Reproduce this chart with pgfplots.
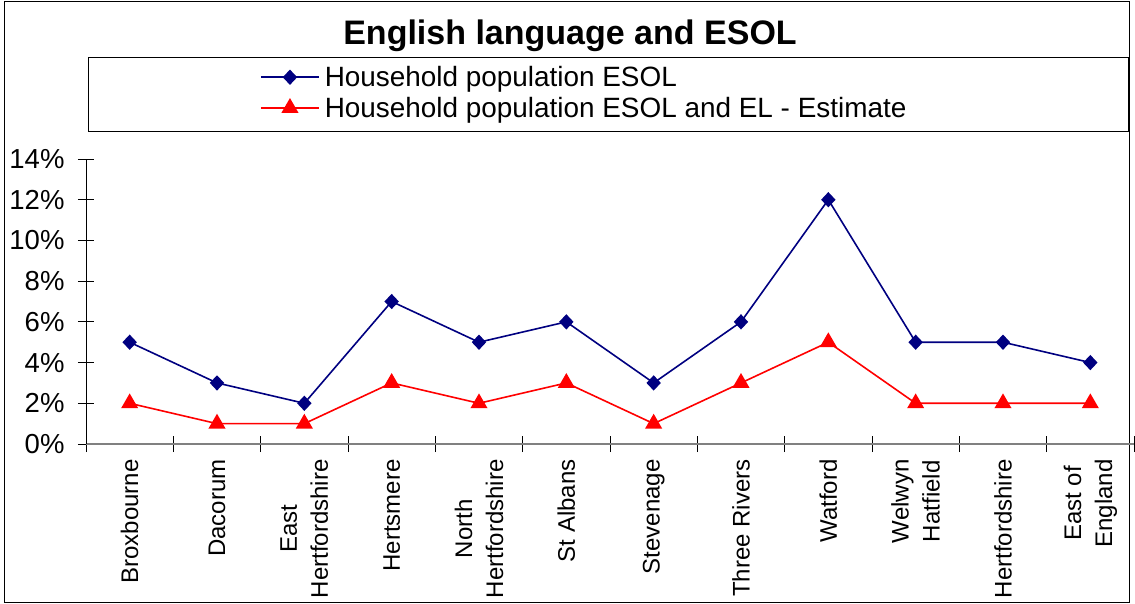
\documentclass[border=0pt]{standalone}
\usepackage{pgfplots}
\pgfplotsset{compat=1.18}
\usepackage{fontspec}
\setmainfont{Liberation Sans}
\definecolor{esolblue}{RGB}{0,0,128}
\definecolor{esolred}{RGB}{255,0,0}
\definecolor{axgray}{RGB}{128,128,128}
\begin{document}
\begin{tikzpicture}[x=1pt,y=1pt]
\useasboundingbox (-86,-159) rectangle (1049,444);
\draw[black, line width=1pt] (-81,-158) rectangle (1043,442);
\draw[black, line width=0.8pt] (2,313) rectangle (1042,387);
\node[font=\fontsize{34}{40}\selectfont\bfseries, anchor=base] at (484,399) {English language and ESOL};
\begin{axis}[
  at={(0,0)}, anchor=south west,
  scale only axis, width=1048pt, height=285pt,
  xmin=0.5, xmax=12.5, ymin=0, ymax=14,
  axis lines*=left,
  x axis line style={draw=axgray, line width=1.5pt},
  y axis line style={draw=black, line width=0.8pt},
  tick align=center,
  major tick length=16pt,
  tick style={black, line width=0.8pt},
  ytick={0,2,...,14},
  yticklabels={0\%,2\%,4\%,6\%,8\%,10\%,12\%,14\%},
  yticklabel style={font=\fontsize{27.5}{31}\selectfont, xshift=-10pt},
  xtick={0.5,1.5,...,12.5},
  xticklabels={},
  extra x ticks={1,2,...,12},
  extra x tick labels={Broxbourne,Dacorum,{East\\Hertfordshire},Hertsmere,{North\\Hertfordshire},St Albans,Stevenage,Three Rivers,Watford,{Welwyn\\Hatfield},Hertfordshire,{East of\\England}},
  extra x tick style={tick style={draw=none}, xticklabel shift=4pt, xticklabel style={rotate=90, anchor=east, align=center, font=\fontsize{24}{31}\selectfont}},
  legend style={at={(0.166,1.233)}, anchor=west, draw=none, fill=none, font=\fontsize{27.9}{31}\selectfont, row sep=5pt, inner sep=0pt, nodes={inner sep=2pt}, /tikz/every odd column/.append style={column sep=3pt}},
  legend cell align=left,
  legend image code/.code={\draw[#1, mark repeat=2, mark phase=2] plot coordinates {(0pt,0pt) (29pt,0pt) (58pt,0pt)};},
  clip=false,
]
\addplot[color=esolblue, line width=1.6pt, mark=diamond*, mark size=6.5pt, mark options={solid, xscale=1.25}] coordinates {
(1,5) (2,3) (3,2) (4,7) (5,5) (6,6) (7,3) (8,6) (9,12) (10,5) (11,5) (12,4)};
\addlegendentry{Household population ESOL}
\addplot[color=esolred, line width=1.6pt, mark=triangle*, mark size=8.3pt, mark options={solid}] coordinates {
(1,2) (2,1) (3,1) (4,3) (5,2) (6,3) (7,1) (8,3) (9,5) (10,2) (11,2) (12,2)};
\addlegendentry{Household population ESOL and EL - Estimate}
\end{axis}
\end{tikzpicture}
\end{document}
